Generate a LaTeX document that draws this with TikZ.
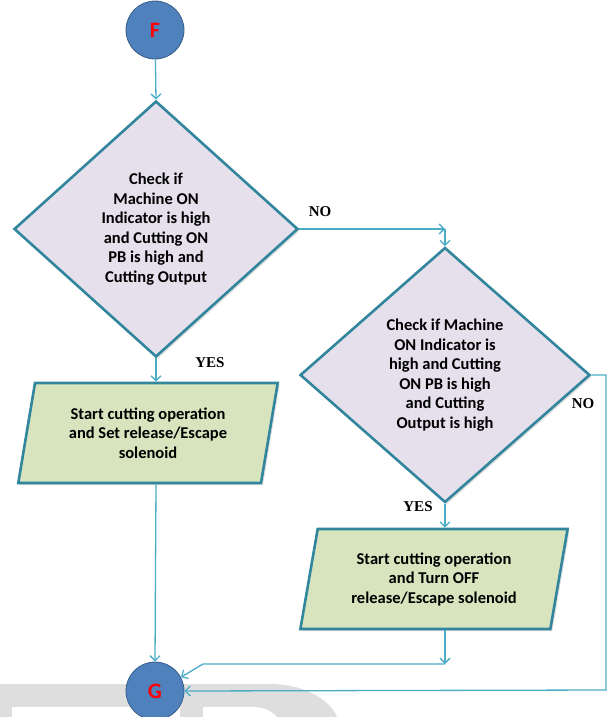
\documentclass[tikz,border=0pt]{standalone}
\usepackage{fontspec}
\setmainfont{Carlito}
\newfontfamily\tagfont{Liberation Serif}
\usetikzlibrary{shapes.geometric,arrows.meta,shadows}

\definecolor{linkc}{HTML}{4BACC6}
\definecolor{edgec}{HTML}{31859C}
\definecolor{decfill}{HTML}{E5E0EC}
\definecolor{iofill}{HTML}{D7E4BD}
\definecolor{termfill}{HTML}{4F81BD}
\definecolor{termedge}{HTML}{385D8A}
\definecolor{markgray}{HTML}{DEDEDE}

\begin{document}
\begin{tikzpicture}[x=1pt,y=-1pt,
  terminal/.style={circle, fill=termfill, draw=termedge, line width=0.8pt,
    minimum size=58pt, inner sep=0pt, text=red,
    font=\bfseries\fontsize{22}{22}\selectfont},
  decision/.style={diamond, fill=decfill, draw=edgec, line width=2.6pt,
    inner sep=0pt, align=center, font=\bfseries\fontsize{16.5}{19.5}\selectfont,
    drop shadow={opacity=0.25, shadow xshift=2pt, shadow yshift=-2pt}},
  iobox/.style={trapezium, trapezium left angle=77, trapezium right angle=103,
    trapezium stretches=true, fill=iofill, draw=edgec, line width=2.6pt,
    inner sep=0pt, align=center, font=\bfseries\fontsize{16.5}{19.5}\selectfont,
    minimum height=100pt,
    drop shadow={opacity=0.25, shadow xshift=2pt, shadow yshift=-2pt}},
  link/.style={draw=linkc, line width=1.3pt},
  tip/.style={-{Straight Barb[length=5pt,width=10pt]}},
  tag/.style={font=\tagfont\bfseries\fontsize{15}{15}\selectfont, inner sep=0pt}
]
\useasboundingbox (0,0) rectangle (608,717);

% faint background lettering at the foot of the page
\fill[markgray] (0,684) -- (270,684) .. controls (305,684) and (330,700) .. (337,717)
  -- (0,717) -- cycle;
\fill[white] (12,707) rectangle (180,717);
\fill[white] (203,707) -- (253,707) .. controls (263,707) and (272,711) .. (277,717)
  -- (203,717) -- cycle;

% shapes
\node[terminal] (F) at (155,30) {F};
\node[decision, minimum width=284pt, minimum height=256pt] (d1) at (156,229)
  {Check if\\Machine ON\\Indicator is high\\and Cutting ON\\PB is high and\\Cutting Output};
\node[iobox, minimum width=260pt] (p1) at (148,433)
  {Start cutting operation\\and Set release/Escape\\solenoid};
\node[decision, minimum width=290pt, minimum height=255pt] (d2) at (445,375)
  {Check if Machine\\ON Indicator is\\high and Cutting\\ON PB is high\\and Cutting\\Output is high};
\node[iobox, minimum width=268pt] (p2) at (434,579)
  {Start cutting operation\\and Turn OFF\\release/Escape solenoid};
\node[terminal] (G) at (155,691) {G};

% turning points of the connectors
\coordinate (nc) at (d2.north |- d1.east);
\coordinate (pc) at (445,664);
\coordinate (pl) at (203,664);
\coordinate (rc) at (606,375);
\coordinate (rb) at (606,690);

% connectors
\draw[link,tip] (F) -- (d1.north);
\draw[link,tip] (d1.south) -- (d1.south |- p1.north);
\draw[link,tip] (d1.south |- p1.south) -- (G.north);
\draw[link,tip] (d1.east) -- (nc);
\draw[link,tip] (nc) -- (d2.north);
\draw[link,tip] (d2.south) -- (d2.south |- p2.north);
\draw[link,tip] (d2.south |- p2.south) -- (pc);
\draw[link,tip] (pc) -- (pl) -- (G.28);
\draw[link,tip] (d2.east) -- (rc) -- (rb) -- (G.east);

% branch labels
\node[tag] (l1) at (210,363) {YES};
\node[tag] (l2) at (320,212) {NO};
\node[tag] (l3) at (418,507) {YES};
\node[tag] (l4) at (583,404) {NO};
\end{tikzpicture}
\end{document}
